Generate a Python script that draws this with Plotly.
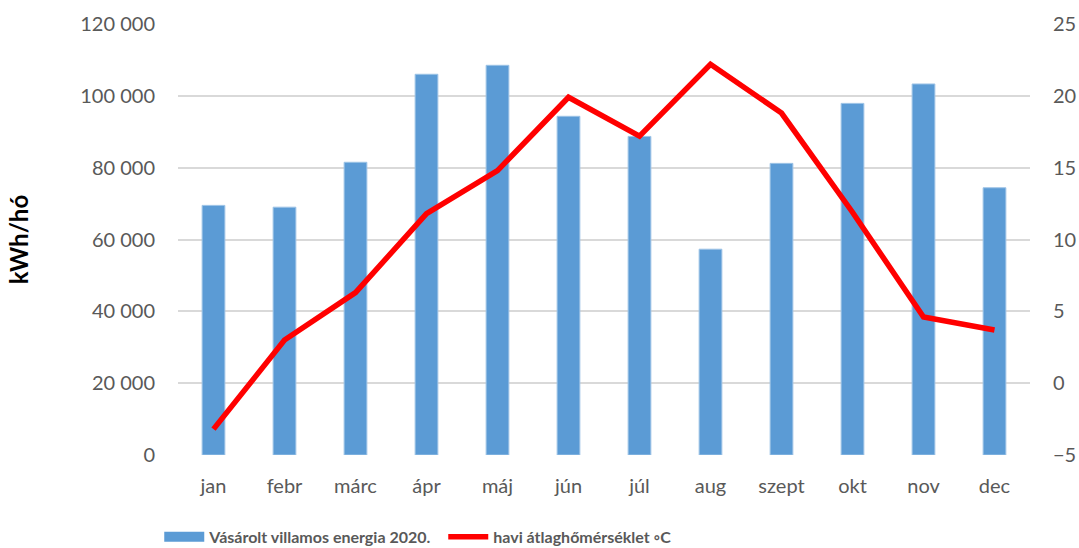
import plotly.graph_objects as go

months = ["jan", "febr", "márc", "ápr", "máj", "jún", "júl", "aug", "szept", "okt", "nov", "dec"]
energy_kwh = [69500, 69000, 81500, 106000, 108500, 94300, 88700, 57300, 81200, 97900, 103300, 74400]
temp_c = [-3.2, 3.0, 6.3, 11.8, 14.8, 19.9, 17.2, 22.2, 18.8, 11.9, 4.6, 3.7]

left_ticks = [0, 20000, 40000, 60000, 80000, 100000, 120000]
left_ticktext = ["0", "20 000", "40 000", "60 000", "80 000", "100 000", "120 000"]
right_ticks = [-5, 0, 5, 10, 15, 20, 25]

bar_name = "Vásárolt villamos energia 2020."
line_name = "havi átlaghőmérséklet ◦C"

font_family = "Lato, 'Open Sans', sans-serif"
gray = "#595959"
bar_color = "#5B9BD5"

fig = go.Figure()
# legend proxy for the bars (wide swatch like the original); draws nothing
fig.add_trace(go.Scatter(
    x=[months[0]], y=[None], mode="lines", name=bar_name,
    line=dict(color=bar_color, width=14), hoverinfo="skip",
))
fig.add_trace(go.Bar(
    x=months, y=energy_kwh, name=bar_name, showlegend=False,
    marker=dict(color=bar_color, line=dict(color="#9DC3E6", width=1)),
    yaxis="y",
))
fig.add_trace(go.Scatter(
    x=months, y=temp_c, name=line_name,
    mode="lines", line=dict(color="#FF0000", width=5.5),
    yaxis="y2",
))

fig.update_layout(
    width=1079, height=548,
    margin=dict(l=178, r=49, t=24, b=93, autoexpand=False),
    plot_bgcolor="white", paper_bgcolor="white",
    bargap=0.68,
    font=dict(family=font_family, size=20, color=gray),
    xaxis=dict(type="category", categoryorder="array", categoryarray=months,
               showgrid=False, showline=False, ticks="", tickfont=dict(size=20, color=gray),
               automargin=False, ticklabelstandoff=17),
    yaxis=dict(
        range=[0, 120000], tickvals=left_ticks, ticktext=left_ticktext,
        showgrid=True, gridcolor="#D9D9D9", gridwidth=1.5, zeroline=False,
        tickfont=dict(size=20, color=gray), ticklabelstandoff=22, automargin=False,
        title=dict(text="kWh/hó", font=dict(size=24, color="black", family=font_family, weight="bold"), standoff=44),
    ),
    yaxis2=dict(
        range=[-5, 25], tickvals=right_ticks, overlaying="y", side="right",
        showgrid=False, zeroline=False, tickfont=dict(size=20, color=gray),
        ticklabelstandoff=22, automargin=False,
    ),
    legend=dict(
        orientation="h", x=-0.022, xanchor="left", y=-0.19, yanchor="middle",
        font=dict(size=16, color=gray, family=font_family, weight="bold"),
        itemwidth=40, tracegroupgap=0, entrywidth=229,
    ),
)

fig.write_html(
    "out.html",
    config={"displayModeBar": False},
    post_script="document.body.style.margin='0';document.body.style.overflow='hidden';",
)
